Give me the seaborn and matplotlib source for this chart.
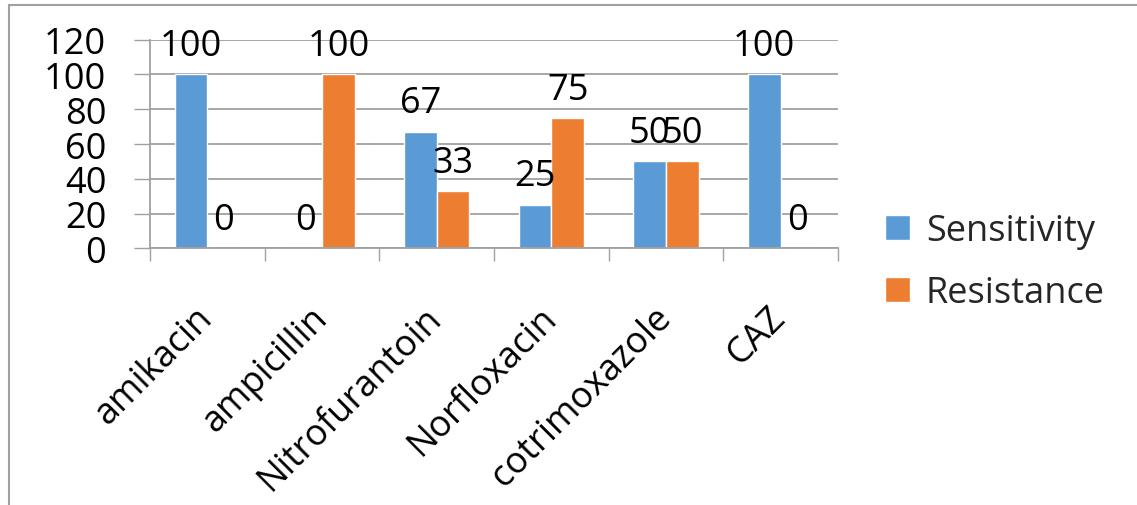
import matplotlib
matplotlib.use("Agg")
import matplotlib.pyplot as plt
import pandas as pd
import seaborn as sns
from matplotlib.patches import Rectangle
from matplotlib.ticker import FixedLocator

# Antibiotic susceptibility (%)
antibiotics = ["amikacin", "ampicillin", "Nitrofurantoin", "Norfloxacin", "cotrimoxazole", "CAZ"]
sensitivity = [100, 0, 67, 25, 50, 100]
resistance = [0, 100, 33, 75, 50, 0]
series_names = ["Sensitivity", "Resistance"]
y_ticks = [0, 20, 40, 60, 80, 100, 120]

df = pd.DataFrame({
    "Antibiotic": antibiotics * 2,
    "Percent": sensitivity + resistance,
    "Outcome": [series_names[0]] * len(antibiotics) + [series_names[1]] * len(antibiotics),
})

sns.set_theme(style="white")
plt.rcParams["font.family"] = ["Open Sans", "DejaVu Sans"]

GRAY = "#A0A0A0"
FS = 26
W, H = 1137, 506

fig = plt.figure(figsize=(W / 100, H / 100), dpi=100)
ax = fig.add_axes([150 / W, 1 - 249.3 / H, 688 / W, 208.6 / H])

sns.barplot(
    data=df, x="Antibiotic", y="Percent", hue="Outcome",
    palette=["#5B9BD5", "#ED7D31"], saturation=1, width=0.572, gap=0,
    errorbar=None, ax=ax,
)

# value labels on top of each bar
for cont in ax.containers:
    ax.bar_label(cont, fmt="%d", padding=7.5, fontsize=FS, color="black")

ax.set_ylim(0, 120)
ax.set_xlim(-0.5, len(antibiotics) - 0.5)
ax.set_yticks(y_ticks)
ax.set_xlabel("")
ax.set_ylabel("")

ax.yaxis.grid(True, color=GRAY, linewidth=1.3)
ax.set_axisbelow(True)
for side in ["top", "right"]:
    ax.spines[side].set_visible(False)
for side in ["left", "bottom"]:
    ax.spines[side].set_color(GRAY)
    ax.spines[side].set_linewidth(1.3)

ax.tick_params(axis="y", left=True, length=11.5, width=1.0, color=GRAY,
               pad=20, labelsize=FS, labelcolor="black")

# category labels centred, tick marks at category boundaries
ax.set_xticks(range(len(antibiotics)))
ax.set_xticklabels(antibiotics)
ax.xaxis.set_minor_locator(FixedLocator([i - 0.5 for i in range(len(antibiotics) + 1)]))
ax.tick_params(axis="x", which="major", bottom=True, length=0, pad=46,
               labelsize=FS, labelcolor="black")
ax.tick_params(axis="x", which="minor", bottom=True, length=9.5, width=1.0, color=GRAY)
for lbl in ax.get_xticklabels():
    lbl.set_rotation(45)
    lbl.set_ha("right")
    lbl.set_va("center")
    lbl.set_rotation_mode("anchor")

handles, labels = ax.get_legend_handles_labels()
if ax.get_legend() is not None:
    ax.get_legend().remove()
fig.legend(
    handles, labels, loc="center left", bbox_to_anchor=(885 / W, 1 - 263.5 / H),
    frameon=False, fontsize=FS, handlelength=0.68, handleheight=0.68,
    handletextpad=0.45, labelspacing=0.72, borderpad=0, borderaxespad=0,
)

# chart-area border
fig.add_artist(Rectangle((9 / W, -0.5), 2.0, (1 - 6 / H) + 0.5,
                         transform=fig.transFigure, fill=False,
                         edgecolor=GRAY, linewidth=1.5, clip_on=False))

fig.savefig("out.png", dpi=100)
